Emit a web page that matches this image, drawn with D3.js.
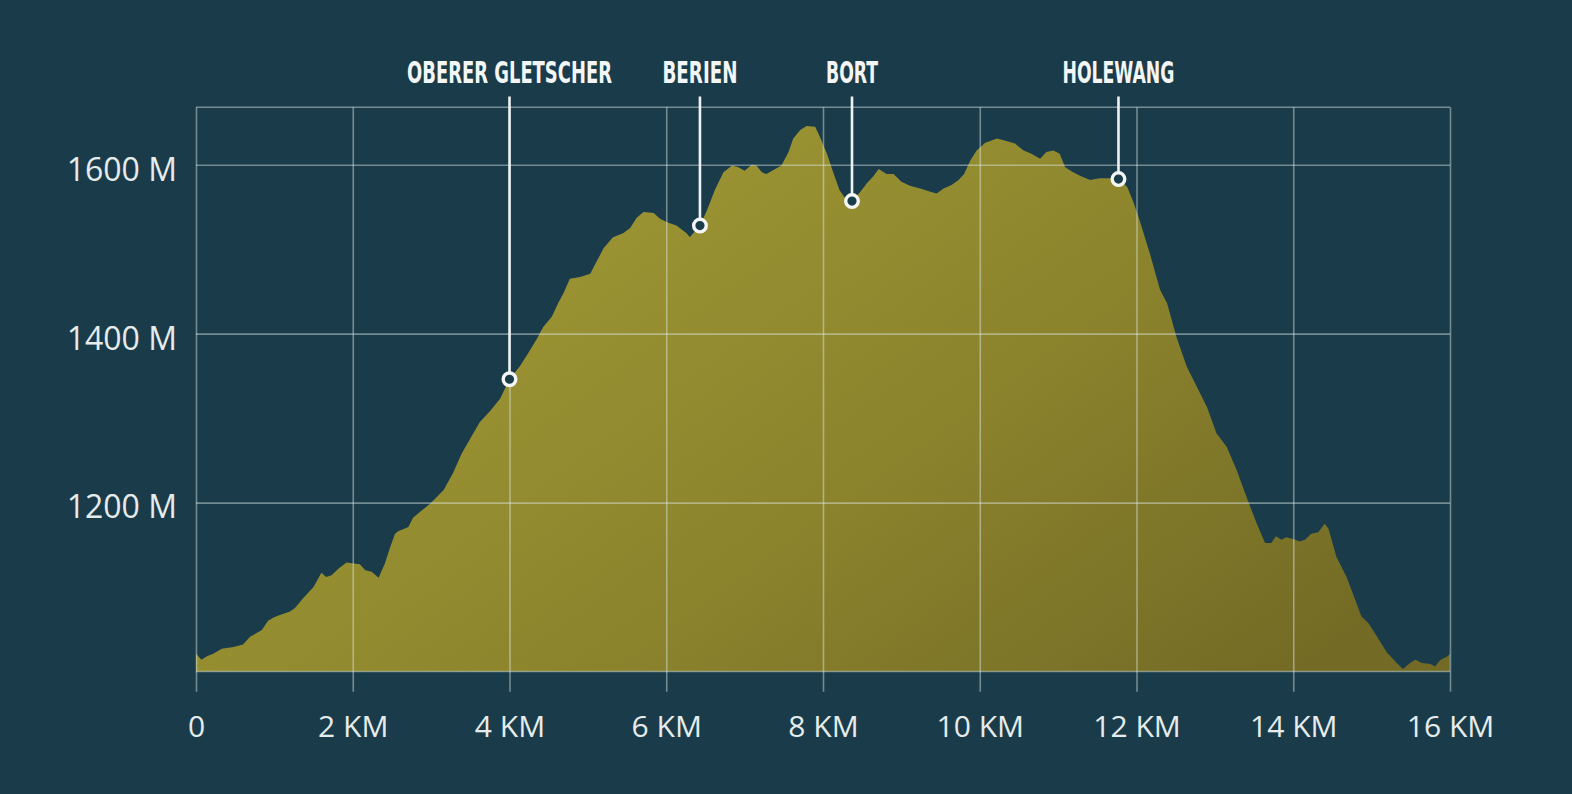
<!DOCTYPE html>
<html>
<head>
<meta charset="utf-8">
<script src="https://cdn.jsdelivr.net/npm/d3@7"></script>
<style>
  html, body { margin: 0; padding: 0; background: #1a3c4a; }
  svg { display: block; }
</style>
</head>
<body>
<svg id="chart" width="1572" height="794"></svg>
<script>
// ---- data ----
const distanceKm = [
  0.00, 0.07, 0.14, 0.22, 0.33, 0.48, 0.60, 0.69, 0.84, 0.92, 0.99, 1.07, 1.20, 1.26, 1.37, 1.50, 1.60, 1.66, 1.73, 1.82,
  1.92, 2.01, 2.09, 2.16, 2.24, 2.33, 2.41, 2.48, 2.54, 2.58, 2.71, 2.77, 2.86, 2.99, 3.16, 3.28, 3.39, 3.50, 3.62, 3.75,
  3.88, 4.00, 4.13, 4.24, 4.35, 4.43, 4.54, 4.62, 4.69, 4.77, 4.90, 5.03, 5.11, 5.20, 5.32, 5.45, 5.54, 5.62, 5.71, 5.84,
  5.92, 6.01, 6.13, 6.26, 6.30, 6.43, 6.52, 6.62, 6.73, 6.84, 6.92, 7.00, 7.09, 7.15, 7.22, 7.28, 7.39, 7.47, 7.56, 7.62,
  7.71, 7.79, 7.90, 7.96, 8.05, 8.13, 8.21, 8.30, 8.37, 8.47, 8.56, 8.64, 8.71, 8.81, 8.90, 9.00, 9.11, 9.24, 9.37, 9.45,
  9.54, 9.64, 9.73, 9.80, 9.88, 9.96, 10.07, 10.22, 10.34, 10.45, 10.56, 10.66, 10.77, 10.85, 10.94, 11.02, 11.09, 11.19, 11.30, 11.41,
  11.53, 11.64, 11.77, 11.88, 11.96, 12.04, 12.17, 12.30, 12.39, 12.51, 12.64, 12.77, 12.90, 13.02, 13.15, 13.28, 13.41, 13.53, 13.64, 13.72,
  13.78, 13.85, 13.91, 14.00, 14.08, 14.15, 14.23, 14.32, 14.40, 14.45, 14.55, 14.68, 14.79, 14.87, 14.96, 15.07, 15.19, 15.32, 15.40, 15.49,
  15.56, 15.64, 15.75, 15.81, 15.88, 15.97, 16.00
];
const elevationM = [
  1021, 1014, 1018, 1021, 1027, 1029, 1032, 1041, 1049, 1060, 1064, 1067, 1071, 1075, 1087, 1100, 1117, 1112, 1114, 1122,
  1129, 1128, 1127, 1120, 1118, 1111, 1128, 1148, 1163, 1166, 1171, 1182, 1189, 1199, 1215, 1235, 1258, 1276, 1295, 1308,
  1323, 1346, 1361, 1377, 1394, 1408, 1420, 1436, 1448, 1465, 1467, 1471, 1485, 1501, 1514, 1519, 1525, 1537, 1544, 1543,
  1536, 1532, 1528, 1519, 1514, 1528, 1546, 1570, 1591, 1599, 1597, 1593, 1600, 1599, 1591, 1589, 1595, 1599, 1615, 1631,
  1641, 1646, 1645, 1633, 1613, 1591, 1570, 1558, 1557, 1567, 1578, 1586, 1595, 1589, 1589, 1580, 1575, 1572, 1568, 1566,
  1572, 1576, 1582, 1589, 1605, 1617, 1626, 1631, 1628, 1625, 1617, 1613, 1607, 1615, 1617, 1613, 1597, 1591, 1586, 1582,
  1584, 1584, 1583, 1574, 1556, 1534, 1495, 1452, 1436, 1396, 1361, 1337, 1313, 1282, 1266, 1238, 1205, 1176, 1152, 1152,
  1160, 1156, 1159, 1157, 1154, 1156, 1163, 1165, 1175, 1169, 1136, 1112, 1085, 1065, 1057, 1041, 1023, 1010, 1003, 1010,
  1014, 1010, 1009, 1006, 1014, 1018, 1021
];
const markerNames = ["OBERER GLETSCHER", "BERIEN", "BORT", "HOLEWANG"];
const markerKm = [4.0, 6.43, 8.37, 11.77];
const markerElev = [1346, 1528, 1557, 1583];
const markerLabelWidth = [205, 75, 52, 112];
const xTicks = [0, 2, 4, 6, 8, 10, 12, 14, 16];
const xTickLabels = ["0", "2 KM", "4 KM", "6 KM", "8 KM", "10 KM", "12 KM", "14 KM", "16 KM"];
const yTicks = [1200, 1400, 1600];
const yTickLabels = ["1200 M", "1400 M", "1600 M"];
const yDomain = [1000, 1668];

// ---- layout ----
const svg = d3.select("#chart");
const plotLeft = 196, plotRight = 1450, plotTop = 107.3, plotBottom = 671.5, tickBottom = 691.7;
const x = d3.scaleLinear().domain([0, 16]).range([plotLeft, plotRight]);
const y = d3.scaleLinear().domain(yDomain).range([plotBottom, plotTop]);

const data = distanceKm.map((d, i) => ({ km: d, m: elevationM[i] }));

const defs = svg.append("defs");
const grad = defs.append("linearGradient").attr("id", "fillGrad")
  .attr("x1", "0%").attr("y1", "20%").attr("x2", "100%").attr("y2", "80%");
grad.append("stop").attr("offset", "0%").attr("stop-color", "#a39c36");
grad.append("stop").attr("offset", "55%").attr("stop-color", "#8d852d");
grad.append("stop").attr("offset", "100%").attr("stop-color", "#736b25");

svg.append("rect").attr("width", 1572).attr("height", 794).attr("fill", "#1a3c4a");

// area
const area = d3.area()
  .x(d => x(d.km))
  .y0(y(yDomain[0]))
  .y1(d => y(d.m))
  .curve(d3.curveLinear);
svg.append("path").datum(data).attr("d", area).attr("fill", "url(#fillGrad)");

const gridColor = "rgba(225,235,235,0.45)";

// x axis with vertical grid lines
const xAxis = d3.axisBottom(x)
  .tickValues(xTicks)
  .tickFormat((d, i) => xTickLabels[i])
  .tickSizeInner(-(tickBottom - plotTop))
  .tickSizeOuter(0)
  .tickPadding(24);
const gx = svg.append("g").attr("transform", `translate(0,${tickBottom})`).call(xAxis);
gx.select(".domain").remove();
gx.selectAll(".tick line").attr("stroke", gridColor).attr("stroke-width", 1.6);
gx.selectAll(".tick text")
  .attr("fill", "#e6ecec")
  .attr("font-family", "'Open Sans', 'Noto Sans', sans-serif")
  .attr("font-size", 30)
  .attr("dy", "0.71em");

// y axis with horizontal grid lines
const yAxis = d3.axisLeft(y)
  .tickValues(yTicks)
  .tickFormat((d, i) => yTickLabels[i])
  .tickSizeInner(-(plotRight - plotLeft))
  .tickSizeOuter(0)
  .tickPadding(19);
const gy = svg.append("g").attr("transform", `translate(${plotLeft},0)`).call(yAxis);
gy.select(".domain").remove();
gy.selectAll(".tick line").attr("stroke", gridColor).attr("stroke-width", 1.6);
gy.selectAll(".tick text")
  .attr("fill", "#e6ecec")
  .attr("font-family", "'Open Sans', 'Noto Sans', sans-serif")
  .attr("font-size", 32)
  .attr("dy", "0.48em");

// frame top & bottom
svg.append("line").attr("x1", plotLeft).attr("x2", plotRight)
  .attr("y1", y(yDomain[1])).attr("y2", y(yDomain[1]))
  .attr("stroke", gridColor).attr("stroke-width", 1.6);
svg.append("line").attr("x1", plotLeft).attr("x2", plotRight)
  .attr("y1", y(yDomain[0])).attr("y2", y(yDomain[0]))
  .attr("stroke", gridColor).attr("stroke-width", 1.6);

// markers
const markers = markerNames.map((n, i) => ({ name: n, km: markerKm[i], m: markerElev[i], w: markerLabelWidth[i] }));
const mg = svg.append("g");
mg.selectAll("line.leader").data(markers).join("line")
  .attr("class", "leader")
  .attr("x1", d => x(d.km)).attr("x2", d => x(d.km))
  .attr("y1", 96.5).attr("y2", d => y(d.m) - 7)
  .attr("stroke", "#eef2f2").attr("stroke-width", 2.6);
mg.selectAll("circle").data(markers).join("circle")
  .attr("cx", d => x(d.km)).attr("cy", d => y(d.m))
  .attr("r", 6.3)
  .attr("fill", "#1a3c4a")
  .attr("stroke", "#f4f6f6").attr("stroke-width", 3.4);
const labels = mg.selectAll("text").data(markers).join("text")
  .attr("text-anchor", "middle")
  .attr("fill", "#f4f6f6")
  .attr("font-family", "'Liberation Sans Narrow', 'DejaVu Sans Condensed', sans-serif")
  .attr("font-weight", "bold")
  .attr("font-size", 30)
  .text(d => d.name);
labels.each(function(d) {
  const natural = this.getComputedTextLength();
  const sx = natural > 0 ? d.w / natural : 1;
  d3.select(this).attr("transform", `translate(${x(d.km)},83.3) scale(${sx},1)`);
});
</script>
</body>
</html>
